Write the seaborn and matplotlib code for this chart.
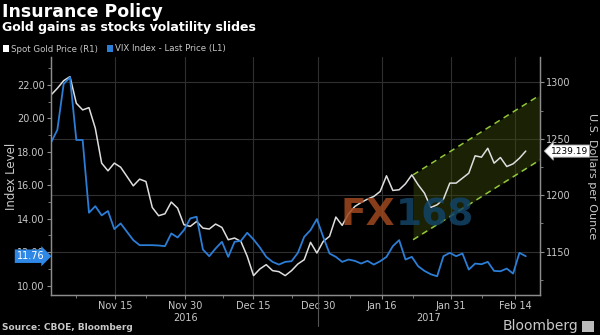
import numpy as np
import pandas as pd
import matplotlib
matplotlib.use("Agg")
import matplotlib.pyplot as plt
import matplotlib.transforms as mtransforms
from matplotlib.patches import Patch, Rectangle
from matplotlib.ticker import MultipleLocator, FixedLocator
import seaborn as sns

# ---------------- data ----------------
vix = [18.55, 19.31, 22.06, 22.46, 18.71, 18.71, 14.36, 14.75, 14.20, 14.46,
       13.38, 13.72, 13.22, 12.72, 12.42, 12.42, 12.42, 12.40, 12.36, 13.12,
       12.88, 13.32, 14.02, 14.12, 12.16, 11.76, 12.22, 12.62, 11.72, 12.62,
       12.68, 13.16, 12.76, 12.28, 11.72, 11.42, 11.26, 11.42, 11.46, 11.96,
       12.92, 13.32, 13.98, 12.92, 11.92, 11.72, 11.42, 11.56, 11.48, 11.32,
       11.48, 11.26, 11.46, 11.72, 12.36, 12.72, 11.56, 11.72, 11.16, 10.88,
       10.68, 10.56, 11.76, 11.96, 11.76, 11.92, 10.96, 11.32, 11.28, 11.42,
       10.88, 10.86, 11.02, 10.72, 11.96, 11.76]

gold = [1288.9, 1294.8, 1301.6, 1305.2, 1281.6, 1275.7, 1277.7, 1259.4, 1228.5, 1221.7,
        1228.5, 1224.9, 1216.7, 1208.4, 1214.3, 1212.2, 1189.2, 1181.9, 1183.6, 1194.0,
        1188.6, 1173.9, 1172.4, 1176.8, 1170.9, 1170.1, 1174.5, 1171.5, 1160.6, 1162.1,
        1159.1, 1145.9, 1128.8, 1134.7, 1138.5, 1133.2, 1132.3, 1128.8, 1133.2, 1139.1,
        1142.9, 1158.3, 1148.8, 1159.1, 1163.6, 1180.7, 1173.3, 1183.6, 1190.1, 1193.7,
        1196.6, 1199.0, 1203.4, 1217.3, 1204.3, 1204.9, 1210.2, 1218.1, 1209.3, 1201.9,
        1189.2, 1191.6, 1196.6, 1210.8, 1210.8, 1215.2, 1219.6, 1235.0, 1233.8, 1241.7,
        1228.5, 1233.5, 1225.5, 1227.9, 1232.9, 1239.19]

tick_labels = ["Nov 15", "Nov 30", "Dec 15", "Dec 30", "Jan 16", "Jan 31", "Feb 14"]
year_labels = ["2016", "2017"]
vix_last = 11.76
gold_last = 1239.19

# trend channel drawn on the gold series (start/end gold values)
channel_upper = [1218.1, 1288.9]
channel_lower = [1160.6, 1231.4]

# ---------------- layout constants ----------------
tick_pos = [10.1, 21.2, 31.9, 42.2, 52.3, 63.2, 73.3]
minor_pos = [4.0, 15.0, 27.2, 38.0, 47.2, 57.2, 68.1]
year_pos = [21.2, 59.6]
year_sep = 42.2
channel_x = [57.2, 77.25]
XMAX = 77.25

BLUE = "#2c7dd6"
WHITE = "#dedede"
GRAY = "#8c8c8c"
TXT = "#c8c8c8"

sns.set_theme(style="ticks", rc={
    "figure.facecolor": "black", "axes.facecolor": "black", "savefig.facecolor": "black",
    "axes.edgecolor": GRAY, "xtick.color": GRAY, "ytick.color": GRAY,
    "text.color": TXT, "axes.labelcolor": TXT, "grid.color": "#303030",
    "xtick.labelcolor": TXT, "ytick.labelcolor": TXT,
})
plt.rcParams["font.family"] = ["DejaVu Sans"]

df = pd.DataFrame({"idx": np.arange(len(vix)), "vix": vix, "gold": gold})

fig = plt.figure(figsize=(6, 3.35), dpi=100)
axg = fig.add_axes([51 / 600, 40 / 335, 489 / 600, 238 / 335])

# gold (right axis) - base axes holding the grid
sns.lineplot(data=df, x="idx", y="gold", ax=axg, color=WHITE, lw=1.1)
axg.set_ylim(1111.6, 1322.6)
axg.set_xlim(0, XMAX)
axg.grid(True, which="major", color="#303030", lw=0.8)
axg.set_axisbelow(True)

# channel
axg.fill_between(channel_x, channel_lower, channel_upper, color="#3a4a0c", alpha=0.45, lw=0, zorder=1)
axg.plot(channel_x, channel_upper, ls=(0, (4, 3)), color="#93c83a", lw=1.1, zorder=2)
axg.plot(channel_x, channel_lower, ls=(0, (4, 3)), color="#93c83a", lw=1.1, zorder=2)

# VIX (left axis)
axv = axg.twinx()
sns.lineplot(data=df, x="idx", y="vix", ax=axv, color=BLUE, lw=1.3)
axv.set_ylim(9.44, 23.67)
axv.set_xlim(0, XMAX)

axg.yaxis.tick_right()
axv.yaxis.tick_left()

axg.yaxis.set_major_locator(FixedLocator([1150, 1200, 1250, 1300]))
axg.yaxis.set_minor_locator(FixedLocator([1125, 1175, 1225, 1275]))
axg.set_yticklabels(["1150", "1200", "1250", "1300"])
axv.yaxis.set_major_locator(FixedLocator([10, 12, 14, 16, 18, 20, 22]))
axv.yaxis.set_minor_locator(MultipleLocator(1))
axv.set_yticklabels([f"{v:.2f}" for v in [10, 12, 14, 16, 18, 20, 22]])

axg.set_xticks(tick_pos)
axg.set_xticklabels(tick_labels)
axg.xaxis.set_minor_locator(FixedLocator(minor_pos))

for a in (axg, axv):
    a.tick_params(axis="both", which="major", length=3, width=0.8, labelsize=7, pad=1.5)
    a.tick_params(axis="both", which="minor", length=2, width=0.6)
    a.spines["top"].set_visible(False)
    for s in ("left", "right", "bottom"):
        a.spines[s].set_color(GRAY)
        a.spines[s].set_linewidth(0.9)
axg.tick_params(axis="x", which="major", pad=1)

axg.set_xlabel("")
axg.set_ylabel("")
axv.set_ylabel("")
fig.text(11.5 / 600, 1 - 176.5 / 335, "Index Level", fontsize=8.5, rotation=90,
         ha="center", va="center", color=TXT)
fig.text(592 / 600, 1 - 176.5 / 335, "U.S. Dollars per Ounce", fontsize=8, rotation=270,
         ha="center", va="center", color=TXT)

# year labels and separator
trans = mtransforms.blended_transform_factory(axg.transData, axg.transAxes)
for xp, yl in zip(year_pos, year_labels):
    axg.text(xp, -0.097, yl, transform=trans, ha="center", va="center", fontsize=7, color=TXT)
axg.plot([year_sep, year_sep], [0, -0.13], transform=trans, color="#555555", lw=0.8, clip_on=False)

# last value tags
tv = mtransforms.blended_transform_factory(axv.transAxes, axv.transData)
axv.text(-0.014, vix_last, f"{vix_last:.2f}", transform=tv, ha="right", va="center",
         fontsize=7, color="white", zorder=10,
         bbox=dict(boxstyle="rarrow,pad=0.18", fc="#2f88e6", ec="none"), clip_on=False)
tg = mtransforms.blended_transform_factory(axg.transAxes, axg.transData)
axg.text(1.022, gold_last, f"{gold_last:.2f}", transform=tg, ha="left", va="center",
         fontsize=6.5, color="black",
         bbox=dict(boxstyle="larrow,pad=0.18", fc="white", ec="#999999", lw=0.6), clip_on=False)

# watermark
fig.text(395 / 600, 1 - 215 / 335, "FX", fontsize=27, weight="bold", color="#a0481e",
         alpha=0.85, ha="right", va="center")
fig.text(396 / 600, 1 - 215 / 335, "168", fontsize=27, weight="bold", color="#124466",
         alpha=0.85, ha="left", va="center")

# titles
fig.text(2 / 600, 1 - 12 / 335, "Insurance Policy", fontsize=12.5, weight="bold",
         color="white", ha="left", va="center")
fig.text(2 / 600, 1 - 28 / 335, "Gold gains as stocks volatility slides", fontsize=9,
         weight="bold", color="white", ha="left", va="center")

# legend
fig.legend(handles=[Patch(fc="white", ec="none"), Patch(fc=BLUE, ec="none")],
           labels=["Spot Gold Price (R1)", "VIX Index - Last Price (L1)"],
           loc="center left", bbox_to_anchor=(0.0, 1 - 49 / 335), ncol=2, frameon=False,
           handlelength=0.7, handleheight=0.7, handletextpad=0.3, columnspacing=1.0,
           fontsize=6.2, borderpad=0, borderaxespad=0.3, labelcolor=TXT)

# footer
fig.text(2 / 600, 1 - 328 / 335, "Source: CBOE, Bloomberg", fontsize=6.5, weight="bold",
         color=TXT, ha="left", va="center")
fig.text(578 / 600, 1 - 326 / 335, "Bloomberg", fontsize=10, color=TXT, ha="right", va="center")
fig.patches.append(Rectangle((582 / 600, 1 - 332 / 335), 12 / 600, 11 / 335,
                             transform=fig.transFigure, fc="#bbbbbb", ec="none"))

fig.savefig("out.png", dpi=100, facecolor="black")
